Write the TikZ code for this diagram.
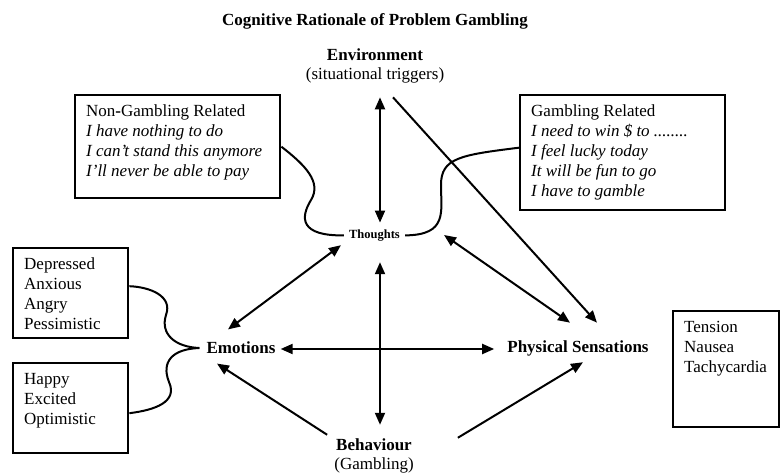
\documentclass[tikz,border=0pt]{standalone}
\usepackage{fontspec}
\setmainfont{Liberation Serif}
\usepackage{tikz}
\usetikzlibrary{arrows.meta}
\tikzset{
    concept/.style={font=\fontsize{17}{19}\selectfont\bfseries, inner sep=0pt, align=center},
    boxed/.style={draw, line width=2.4pt, inner xsep=11pt, inner ysep=10pt, anchor=north west,
        font=\fontsize{17}{20}\selectfont},
    dbl/.style={{Triangle[length=12pt,width=10pt]}-{Triangle[length=12pt,width=10pt]}, line width=2pt},
    sgl/.style={-{Triangle[length=12pt,width=10pt]}, line width=2pt},
    wiggle/.style={line width=2pt}}
\newcommand{\boxtext}[3]{\parbox[c][#2][t]{#1}{#3}}

\begin{document}
\begin{tikzpicture}[x=1pt,y=-1pt]
    \useasboundingbox (0,0) rectangle (780,473);

    \node[concept] (title) at (375,21.6) {Cognitive Rationale of Problem Gambling};

    \node[concept] (env) at (375,65.6) {Environment\\{\mdseries(situational triggers)}};
    \node[concept, font=\fontsize{12.5}{14}\selectfont\bfseries] (thoughts) at (374.5,235.4) {Thoughts};
    \node[concept] (emotions) at (241,348) {Emotions};
    \node[concept] (physical) at (578,348.7) {Physical Sensations};
    \node[concept] (behav) at (374,455.8) {Behaviour\\{\mdseries(Gambling)}};

    \node[boxed] (nongamb) at (74,94) {\boxtext{183pt}{83pt}{Non\textbf{-}Gambling Related\\
        \textit{I have nothing to do}\\ \textit{I can’t stand this anymore}\\ \textit{I’ll never be able to pay}}};
    \node[boxed] (gamb) at (519,94) {\boxtext{183pt}{95pt}{Gambling Related\\
        \textit{I need to win \$ to ........}\\ \textit{I feel lucky today}\\
        \textit{It will be fun to go}\\ \textit{I have to gamble}}};
    \node[boxed] (negmood) at (12,247) {\boxtext{93pt}{70pt}{Depressed\\ Anxious\\ Angry\\ Pessimistic}};
    \node[boxed] (posmood) at (12,362) {\boxtext{93pt}{70pt}{Happy\\ Excited\\ Optimistic}};
    \node[boxed] (bodily) at (672,310) {\boxtext{84pt}{96pt}{Tension\\ Nausea\\ Tachycardia}};

    % arrows between the concepts
    \draw[dbl] ([shift={(5,14.3)}]env.south) -- ([shift={(5.5,-6.9)}]thoughts.north);
    \draw[sgl] ([shift={(18,14.3)}]env.south) -- ([shift={(19,-18.1)}]physical.north);
    \draw[dbl] ([shift={(44,-0.4)}]thoughts.east) -- ([shift={(-8,-18.1)}]physical.north);
    \draw[dbl] ([shift={(-8,3.9)}]thoughts.south west) -- ([shift={(-13,-12.4)}]emotions.north);
    \draw[dbl] ([shift={(5,1)}]emotions.east) -- ([shift={(-13,0.3)}]physical.west);
    \draw[dbl] ([shift={(5.5,20.9)}]thoughts.south) -- ([shift={(6,-13.6)}]behav.north);
    \draw[sgl] ([shift={(-7,-3.6)}]behav.north west) -- ([shift={(-24,9.4)}]emotions.south);
    \draw[sgl] ([shift={(44,-0.6)}]behav.north east) -- ([shift={(5,5.6)}]physical.south);

    % wavy links from the boxes
    \draw[wiggle] (nongamb.east) .. controls (305,165) and (322,182) .. (311,200)
        .. controls (300,218) and (300,236) .. ([shift={(-5,0)}]thoughts.west);
    \draw[wiggle] ([shift={(0,-5)}]gamb.west) .. controls (460,155) and (441,158) .. (441,185)
        .. controls (441,212) and (448,235) .. ([shift={(5,0)}]thoughts.east);
    \draw[wiggle] ([shift={(0,-7)}]negmood.east) .. controls (150,287) and (173,296) .. (166,315)
        .. controls (160,334) and (175,347) .. ([shift={(-7,0)}]emotions.west);
    \draw[wiggle] ([shift={(0,5)}]posmood.east) .. controls (155,410) and (178,402) .. (169,382)
        .. controls (161,362) and (172,349) .. ([shift={(-7,0)}]emotions.west);

\end{tikzpicture}
\end{document}
